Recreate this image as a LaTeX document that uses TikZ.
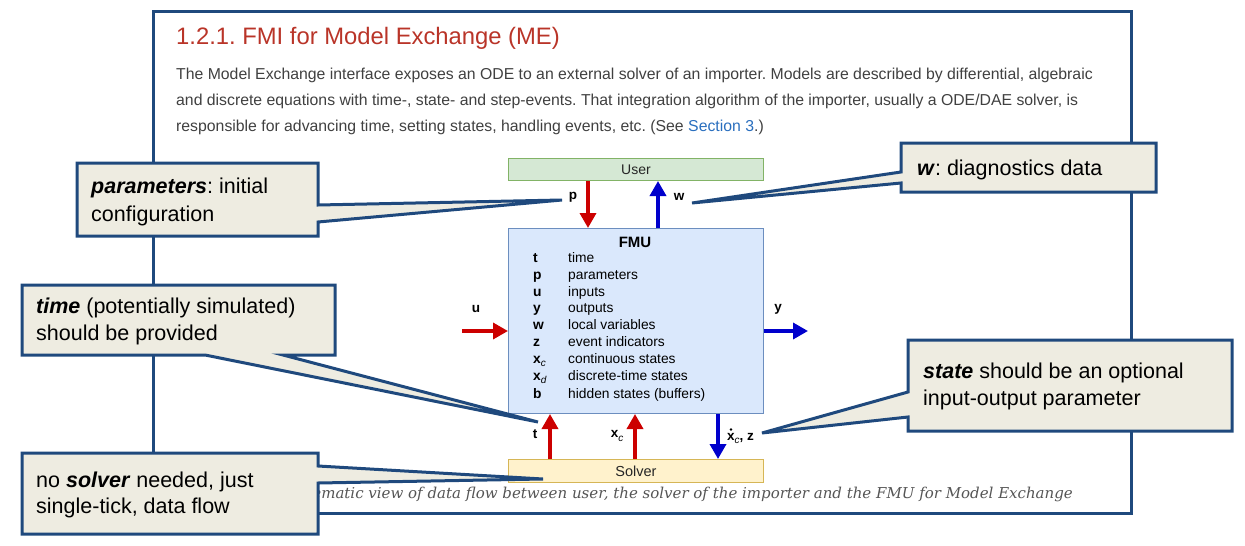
\documentclass[tikz,border=0pt]{standalone}
\usepackage{fontspec}
\setmainfont{Liberation Sans}
\newfontfamily\capfont{DejaVu Serif}
\usetikzlibrary{arrows.meta}
\frenchspacing
\definecolor{frameblue}{RGB}{31,73,125}
\definecolor{callfill}{RGB}{238,236,225}
\definecolor{titlered}{RGB}{185,52,40}
\definecolor{bodygray}{RGB}{64,64,64}
\definecolor{linkblue}{RGB}{41,110,190}
\definecolor{capgray}{RGB}{85,85,85}
\definecolor{arrred}{RGB}{204,0,0}
\definecolor{arrblue}{RGB}{0,0,204}
\definecolor{userfill}{RGB}{213,232,212}
\definecolor{userline}{RGB}{130,179,102}
\definecolor{fmufill}{RGB}{218,232,252}
\definecolor{fmuline}{RGB}{108,142,191}
\definecolor{solfill}{RGB}{255,242,204}
\definecolor{solline}{RGB}{214,182,86}
\newcommand\subit[1]{\raisebox{-0.25em}{\fontsize{10}{10}\selectfont\itshape #1}}
\tikzset{
  txt/.style={inner sep=0pt, anchor=base west},
  body/.style={txt, text=bodygray, font=\fontsize{15.8}{18}\selectfont},
  calltext/.style={txt, text=black, font=\fontsize{21.5}{27}\selectfont},
  callbg/.style={fill=callfill, draw=frameblue, line width=3pt, line join=miter},
  rowsym/.style={txt, font=\fontsize{13.8}{16}\selectfont\bfseries},
  rowdesc/.style={txt, font=\fontsize{13.8}{16}\selectfont},
  lbl/.style={inner sep=0pt, font=\fontsize{13.5}{16}\selectfont\bfseries},
  boxnode/.style={inner sep=0pt, line width=1pt, anchor=north west},
  redarr/.style={draw=arrred, line width=3.5pt, -{Triangle[length=15pt,width=16pt]}},
  bluearr/.style={draw=arrblue, line width=3.5pt, -{Triangle[length=15pt,width=16pt]}},
}
\begin{document}
\begin{tikzpicture}[x=1pt,y=-1pt]
\useasboundingbox (0,0) rectangle (1245,546);
% page frame
\draw[frameblue, line width=3pt] (153,11) rectangle (1131,513);
% title and body
\node[txt, text=titlered, font=\fontsize{23.8}{28}\selectfont] (title) at (176,44) {1.2.1. FMI for Model Exchange (ME)};
\node[body] (l1) at (176,79) {The Model Exchange interface exposes an ODE to an external solver of an importer. Models are described by differential, algebraic};
\node[body] (l2) at (176,105) {and discrete equations with time-, state- and step-events. That integration algorithm of the importer, usually a ODE/DAE solver, is};
\node[body] (l3) at (176,131) {responsible for advancing time, setting states, handling events, etc. (See \textcolor{linkblue}{Section 3}.)};
% boxes
\node[boxnode, fill=userfill, draw=userline, minimum width=255pt, minimum height=22pt] (user) at (508,158) {};
\node[font=\fontsize{14}{16}\selectfont, text=black!85, inner sep=0pt] (usert) at (user.center) {User};
\node[boxnode, fill=fmufill, draw=fmuline, minimum width=255pt, minimum height=185pt] (fmu) at (508,228) {};
\node[txt, anchor=base, font=\fontsize{15}{18}\selectfont\bfseries] (fmut) at (635,247) {FMU};
\node[boxnode, fill=solfill, draw=solline, minimum width=255pt, minimum height=23pt] (solver) at (508,459) {};
\node[font=\fontsize{14.5}{16}\selectfont, text=black!85, inner sep=0pt] (solvert) at (solver.center) {Solver};
% FMU rows
\node[rowsym] (s1) at (533,262) {t};        \node[rowdesc] (d1) at (568,262) {time};
\node[rowsym] (s2) at (533,279) {p};        \node[rowdesc] (d2) at (568,279) {parameters};
\node[rowsym] (s3) at (533,296) {u};        \node[rowdesc] (d3) at (568,296) {inputs};
\node[rowsym] (s4) at (533,312) {y};        \node[rowdesc] (d4) at (568,312) {outputs};
\node[rowsym] (s5) at (533,329) {w};        \node[rowdesc] (d5) at (568,329) {local variables};
\node[rowsym] (s6) at (533,346) {z};        \node[rowdesc] (d6) at (568,346) {event indicators};
\node[rowsym] (s7) at (533,363) {x\mdseries\subit{c}}; \node[rowdesc] (d7) at (568,363) {continuous states};
\node[rowsym] (s8) at (533,380) {x\mdseries\subit{d}}; \node[rowdesc] (d8) at (568,380) {discrete-time states};
\node[rowsym] (s9) at (533,398) {b};        \node[rowdesc] (d9) at (568,398) {hidden states (buffers)};
% arrow coordinates
\coordinate (px) at (588,0);
\coordinate (wx) at (658,0);
\coordinate (tx) at (550,0);
\coordinate (xcx) at (635,0);
\coordinate (dxx) at (718,0);
\coordinate (uin) at (462,331);
\coordinate (yout) at (808,331);
% arrows
\draw[redarr] (px |- user.south) -- (px |- fmu.north);
\draw[bluearr] (wx |- fmu.north) -- (wx |- user.south);
\draw[redarr] (uin) -- (uin -| fmu.west);
\draw[bluearr] (yout -| fmu.east) -- (yout);
\draw[redarr] (tx |- solver.north) -- (tx |- fmu.south);
\draw[redarr] (xcx |- solver.north) -- (xcx |- fmu.south);
\draw[bluearr] (dxx |- fmu.south) -- (dxx |- solver.north);
% arrow labels
\node[lbl] (lp) at (573,197) {p};
\node[lbl] (lw) at (679,197) {w};
\node[lbl] (lu) at (476,309) {u};
\node[lbl] (ly) at (778,309) {y};
\node[lbl] (lt) at (535,434) {t};
\node[lbl] (lxc) at (617,436) {x\mdseries\subit{c}};
\node[lbl, anchor=base west] (ldx) at (727,440) {x\mdseries\subit{c}\bfseries, z};
\fill[black] ([xshift=3.9pt,yshift=10.5pt]ldx.base west) circle[radius=1.4pt];
% caption
\node[txt, anchor=base east, text=capgray, font=\capfont\itshape\fontsize{15}{17}\selectfont] (cap) at (1073,498) {Schematic view of data flow between user, the solver of the importer and the FMU for Model Exchange};
% callouts
\coordinate (tip1) at (562,200);
\coordinate (tip2) at (692,203);
\coordinate (tip3) at (538,422);
\coordinate (tip4) at (762,433);
\coordinate (tip5) at (543,479);
\draw[callbg] (77,163) -- (318,163) -- (318,205) -- (tip1) -- (318,222) -- (318,236) -- (77,236) -- cycle;
\node[calltext] (c1a) at (91,193) {\textbf{\textit{parameters}}: initial};
\node[calltext] (c1b) at (91,221) {configuration};
\draw[callbg] (901,143) -- (1156,143) -- (1156,192) -- (901,192) -- (901,183) -- (tip2) -- (901,172) -- cycle;
\node[calltext] (c2a) at (917,175) {\textbf{\textit{w}}: diagnostics data};
\draw[callbg] (22,285) -- (335,285) -- (335,355) -- (283,355) -- (tip3) -- (205,355) -- (22,355) -- cycle;
\node[calltext] (c3a) at (36,313) {\textbf{\textit{time}} (potentially simulated)};
\node[calltext] (c3b) at (36,340) {should be provided};
\draw[callbg] (908,340) -- (1232,340) -- (1232,431) -- (908,431) -- (908,417) -- (tip4) -- (908,392) -- cycle;
\node[calltext] (c4a) at (923,378) {\textbf{\textit{state}} should be an optional};
\node[calltext] (c4b) at (923,405) {input-output parameter};
\draw[callbg] (22,453) -- (318,453) -- (318,466) -- (tip5) -- (318,483) -- (318,534) -- (22,534) -- cycle;
\node[calltext] (c5a) at (36,487) {no \textbf{\textit{solver}} needed, just};
\node[calltext] (c5b) at (36,513) {single-tick, data flow};
\end{tikzpicture}
\end{document}
